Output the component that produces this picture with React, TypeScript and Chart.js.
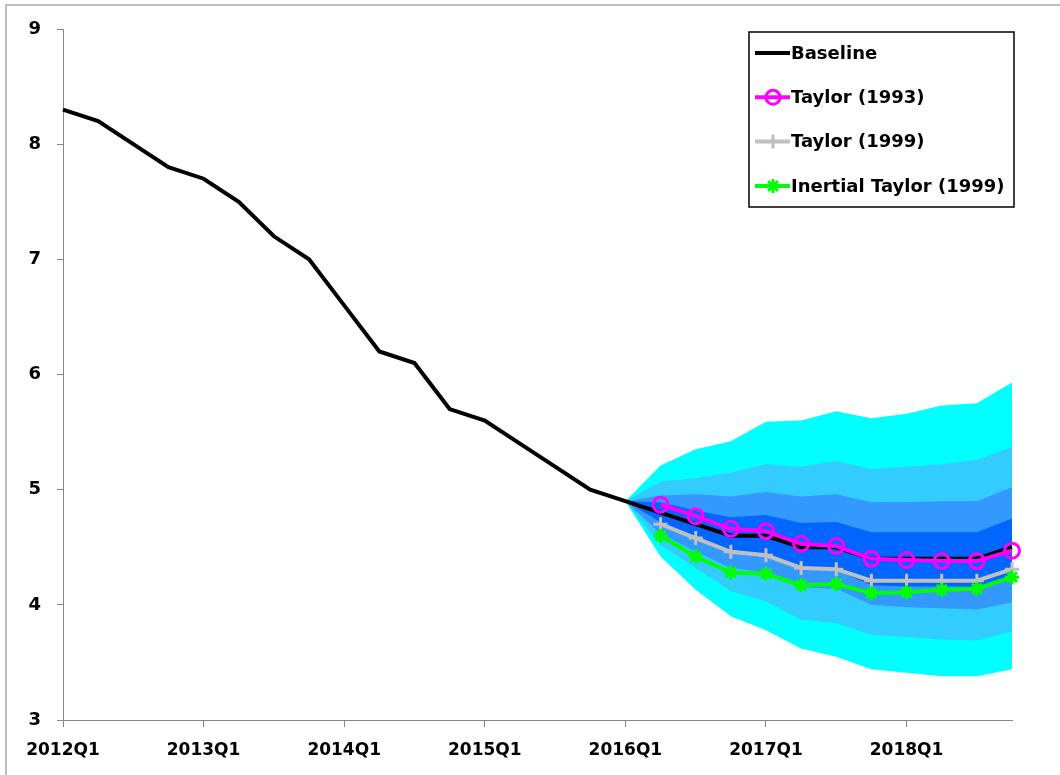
import React, { useEffect, useRef } from "react";
import { Chart, registerables } from "chart.js";
import { drawPoint } from "chart.js/helpers";

Chart.register(...registerables);

const quarters = [
  "2012Q1", "2012Q2", "2012Q3", "2012Q4",
  "2013Q1", "2013Q2", "2013Q3", "2013Q4",
  "2014Q1", "2014Q2", "2014Q3", "2014Q4",
  "2015Q1", "2015Q2", "2015Q3", "2015Q4",
  "2016Q1", "2016Q2", "2016Q3", "2016Q4",
  "2017Q1", "2017Q2", "2017Q3", "2017Q4",
  "2018Q1", "2018Q2", "2018Q3", "2018Q4",
];

const baseline = [
  8.3, 8.2, 8.0, 7.8, 7.7, 7.5, 7.2, 7.0, 6.6, 6.2, 6.1, 5.7, 5.6, 5.4,
  5.2, 5.0, 4.9, 4.8, 4.7, 4.6, 4.6, 4.5, 4.5, 4.4, 4.4, 4.4, 4.4, 4.5,
];

// Policy rule paths: 2016Q2 .. 2018Q4
const taylor1993 = [4.87, 4.77, 4.66, 4.64, 4.53, 4.51, 4.40, 4.39, 4.38, 4.38, 4.47];
const taylor1999 = [4.70, 4.58, 4.46, 4.43, 4.32, 4.31, 4.21, 4.21, 4.21, 4.21, 4.31];
const inertialTaylor1999 = [4.60, 4.42, 4.28, 4.27, 4.17, 4.18, 4.10, 4.11, 4.13, 4.14, 4.24];

// Fan bands: 2016Q1 .. 2018Q4
const cyanTop = [4.9, 5.21, 5.35, 5.42, 5.59, 5.60, 5.68, 5.62, 5.66, 5.73, 5.75, 5.93];
const lightTop = [4.9, 5.07, 5.10, 5.15, 5.22, 5.20, 5.25, 5.18, 5.20, 5.22, 5.26, 5.37];
const mediumTop = [4.9, 4.95, 4.96, 4.94, 4.98, 4.94, 4.96, 4.89, 4.89, 4.90, 4.90, 5.02];
const darkTop = [4.9, 4.89, 4.82, 4.76, 4.78, 4.71, 4.72, 4.63, 4.63, 4.63, 4.63, 4.75];
const darkBottom = [4.9, 4.72, 4.58, 4.45, 4.42, 4.30, 4.30, 4.17, 4.16, 4.16, 4.16, 4.24];
const mediumBottom = [4.9, 4.62, 4.46, 4.32, 4.28, 4.15, 4.14, 4.00, 3.98, 3.97, 3.96, 4.02];
const lightBottom = [4.9, 4.52, 4.32, 4.12, 4.03, 3.87, 3.84, 3.74, 3.72, 3.70, 3.69, 3.77];
const cyanBottom = [4.9, 4.42, 4.13, 3.90, 3.78, 3.62, 3.55, 3.44, 3.41, 3.38, 3.38, 3.44];

const yTicks = [3, 4, 5, 6, 7, 8, 9];

const FONT = "'DejaVu Sans', sans-serif";
const AXIS_GREY = "#868686";

const alignFrom = (start: string, arr: number[]) => {
  const i = quarters.indexOf(start);
  return quarters.map((_, k) => (k >= i && k - i < arr.length ? arr[k - i] : null));
};

const band = (top: number[], bottom: number[], color: string, order: number) => [
  {
    label: "",
    data: alignFrom("2016Q1", top),
    borderWidth: 0,
    pointRadius: 0,
    backgroundColor: color,
    fill: "+1",
    order,
    tension: 0,
  },
  {
    label: "",
    data: alignFrom("2016Q1", bottom),
    borderWidth: 0,
    pointRadius: 0,
    backgroundColor: color,
    fill: false,
    order: order + 1,
    tension: 0,
  },
];

const legendItems = [
  { label: "Baseline", color: "#000000", style: "", radius: 0 },
  { label: "Taylor (1993)", color: "#FF00FF", style: "circle", radius: 7 },
  { label: "Taylor (1999)", color: "#C0C0C0", style: "cross", radius: 7 },
  { label: "Inertial Taylor (1999)", color: "#00FF00", style: "star", radius: 7 },
];

const boxLegend = {
  id: "boxLegend",
  afterDraw(chart: any) {
    const { ctx, chartArea } = chart;
    const w = 265;
    const h = 175;
    const x = chartArea.right + 2 - w;
    const y = chartArea.top + 3;
    ctx.save();
    ctx.fillStyle = "#ffffff";
    ctx.fillRect(x, y, w, h);
    ctx.strokeStyle = "#000000";
    ctx.lineWidth = 1.5;
    ctx.strokeRect(x, y, w, h);
    ctx.font = `bold 18px ${FONT}`;
    ctx.textBaseline = "middle";
    ctx.textAlign = "left";
    legendItems.forEach((it, i) => {
      const cy = y + 21 + i * 44.3;
      ctx.strokeStyle = it.color;
      ctx.lineWidth = 4;
      ctx.beginPath();
      ctx.moveTo(x + 6, cy);
      ctx.lineTo(x + 41, cy);
      ctx.stroke();
      if (it.style) {
        ctx.lineWidth = 3;
        ctx.strokeStyle = it.color;
        ctx.fillStyle = "rgba(0,0,0,0)";
        drawPoint(ctx, { pointStyle: it.style, radius: it.radius, borderWidth: 3, rotation: 0 } as any, x + 24, cy);
      }
      ctx.fillStyle = "#000000";
      ctx.fillText(it.label, x + 42, cy + 1);
    });
    ctx.restore();
  },
};

export default function App() {
  const canvasRef = useRef<HTMLCanvasElement | null>(null);

  useEffect(() => {
    let chart: Chart | null = null;
    let cancelled = false;
    const build = () => {
      if (cancelled || !canvasRef.current) return;
      chart = new Chart(canvasRef.current, {
        type: "line",
        data: {
          labels: quarters,
          datasets: [
            {
              label: "Taylor (1993)",
              data: alignFrom("2016Q2", taylor1993),
              borderColor: "#FF00FF",
              borderWidth: 4,
              pointStyle: "circle",
              pointRadius: 7.5,
              pointBorderWidth: 3,
              pointBorderColor: "#FF00FF",
              pointBackgroundColor: "rgba(0,0,0,0)",
              fill: false,
              order: 0,
              clip: false,
              tension: 0,
            },
            {
              label: "Inertial Taylor (1999)",
              data: alignFrom("2016Q2", inertialTaylor1999),
              borderColor: "#00FF00",
              borderWidth: 4,
              pointStyle: "star",
              pointRadius: 7,
              pointBorderWidth: 3,
              pointBorderColor: "#00FF00",
              pointBackgroundColor: "#00FF00",
              fill: false,
              order: 1,
              clip: false,
              tension: 0,
            },
            {
              label: "Taylor (1999)",
              data: alignFrom("2016Q2", taylor1999),
              borderColor: "#C0C0C0",
              borderWidth: 4,
              pointStyle: "cross",
              pointRadius: 7,
              pointBorderWidth: 3,
              pointBorderColor: "#C0C0C0",
              fill: false,
              order: 2,
              clip: false,
              tension: 0,
            },
            {
              label: "Baseline",
              data: baseline,
              borderColor: "#000000",
              borderWidth: 4,
              pointRadius: 0,
              fill: false,
              order: 3,
              tension: 0,
            },
            ...band(darkTop, darkBottom, "#0066FF", 10),
            ...band(mediumTop, mediumBottom, "#3399FF", 12),
            ...band(lightTop, lightBottom, "#33CCFF", 14),
            ...band(cyanTop, cyanBottom, "#00FFFF", 16),
          ] as any,
        },
        options: {
          animation: false,
          responsive: false,
          devicePixelRatio: 1,
          layout: { padding: { top: 29, right: 48, left: 0, bottom: 0 } },
          plugins: {
            legend: { display: false },
            tooltip: { enabled: false },
            title: { display: false },
          },
          scales: {
            x: {
              type: "category",
              offset: false,
              afterFit: (s: any) => {
                s.height = 55;
              },
              border: { display: true, color: AXIS_GREY, width: 1 },
              grid: {
                display: true,
                drawOnChartArea: false,
                drawTicks: true,
                tickLength: 7,
                color: (c: any) => (c.index % 4 === 0 ? AXIS_GREY : "rgba(0,0,0,0)"),
              },
              ticks: {
                autoSkip: false,
                maxRotation: 0,
                minRotation: 0,
                padding: 13,
                color: "#000000",
                font: { family: FONT, weight: "bold", size: 17 },
                callback: (_v: any, i: number) => (i % 4 === 0 ? quarters[i] : ""),
              },
            },
            y: {
              min: yTicks[0],
              max: yTicks[yTicks.length - 1],
              afterFit: (s: any) => {
                s.width = 63;
              },
              afterBuildTicks: (s: any) => {
                s.ticks = yTicks.map((v) => ({ value: v }));
              },
              border: { display: true, color: AXIS_GREY, width: 1 },
              grid: {
                display: true,
                drawOnChartArea: false,
                drawTicks: true,
                tickLength: 6,
                color: AXIS_GREY,
              },
              ticks: {
                padding: 16,
                color: "#000000",
                font: { family: FONT, weight: "bold", size: 18 },
              },
            },
          },
        } as any,
        plugins: [boxLegend],
      });
    };
    const fontsReady = (document as any).fonts
      ? Promise.all([
          (document as any).fonts.load(`bold 18px 'DejaVu Sans'`),
          (document as any).fonts.load(`bold 17px 'DejaVu Sans'`),
        ]).catch(() => null)
      : Promise.resolve(null);
    fontsReady.then(build);
    return () => {
      cancelled = true;
      if (chart) chart.destroy();
    };
  }, []);

  return (
    <div
      style={{
        position: "fixed",
        left: 0,
        top: 0,
        width: 1060,
        height: 775,
        background: "#ffffff",
        overflow: "hidden",
      }}
    >
      <div
        style={{
          position: "absolute",
          left: 5,
          top: 4,
          width: 1100,
          height: 800,
          borderTop: "2px solid #BDBDBD",
          borderLeft: "2px solid #BDBDBD",
        }}
      />
      <canvas
        ref={canvasRef}
        width={1060}
        height={775}
        style={{ position: "absolute", left: 0, top: 0, width: 1060, height: 775 }}
      />
    </div>
  );
}
